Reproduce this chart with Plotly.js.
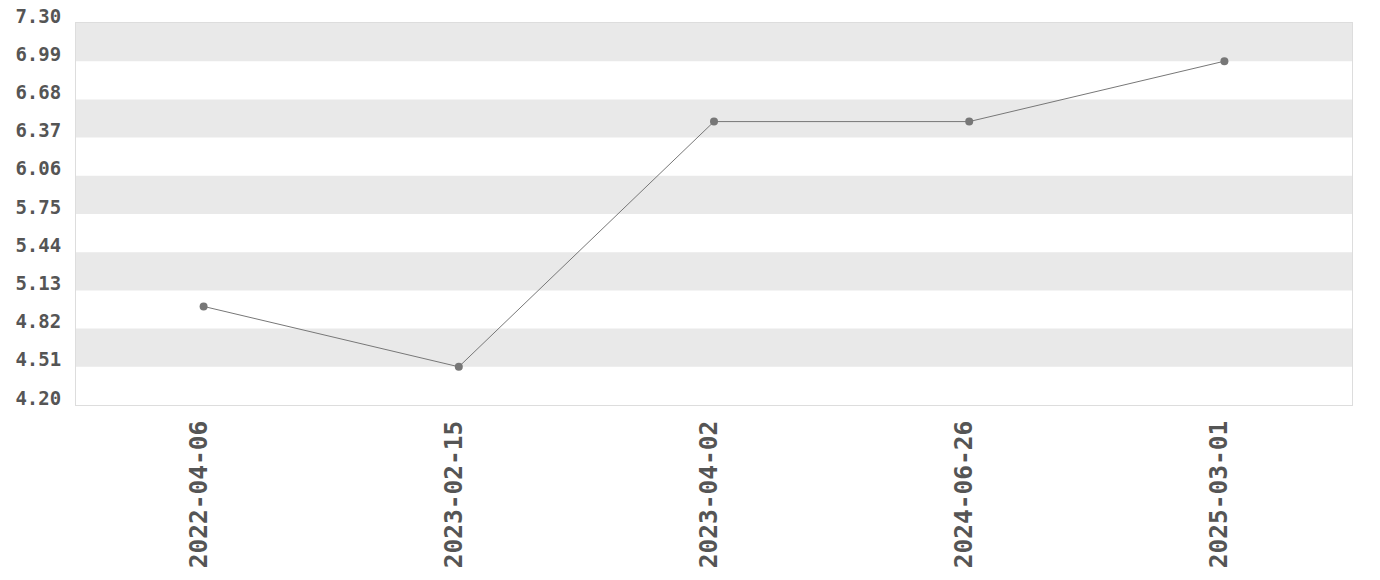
<!DOCTYPE html>
<html><head><meta charset="utf-8">
<script src="https://cdn.plot.ly/plotly-3.0.1.min.js"></script>
<style>html,body{margin:0;padding:0;background:#fff}#chart{width:1380px;height:580px}</style>
</head><body><div id="chart"></div>
<script>
const categories = ["2022-04-06", "2023-02-15", "2023-04-02", "2024-06-26", "2025-03-01"];
const values = [5.00, 4.51, 6.50, 6.50, 6.99];
const tickValues = [4.20, 4.51, 4.82, 5.13, 5.44, 5.75, 6.06, 6.37, 6.68, 6.99, 7.30];
const tickLabels = ["4.20", "4.51", "4.82", "5.13", "5.44", "5.75", "6.06", "6.37", "6.68", "6.99", "7.30"];

const shapes = [];
for (let i = tickValues.length - 2; i >= 0; i -= 2) {
  shapes.push({type: "rect", xref: "paper", yref: "y", x0: 0, x1: 1,
    y0: tickValues[i], y1: tickValues[i + 1], fillcolor: "#e9e9e9", line: {width: 0}, layer: "below"});
}

const font = {family: "DejaVu Sans Mono, monospace", size: 19, color: "#555555", weight: "bold"};

Plotly.newPlot("chart", [{
  x: categories, y: values, type: "scatter", mode: "lines+markers",
  line: {color: "#777777", width: 1},
  marker: {color: "#777777", size: 8},
  hoverinfo: "x+y"
}], {
  width: 1380, height: 580,
  margin: {l: 76, r: 28, t: 23, b: 175},
  paper_bgcolor: "#ffffff", plot_bgcolor: "#ffffff",
  showlegend: false,
  shapes: shapes,
  xaxis: {type: "category", range: [-0.5, 4.5], showgrid: false, zeroline: false,
    tickangle: -90, tickfont: Object.assign({}, font, {size: 24.5}), ticks: "",
    ticklabelstandoff: 5, ticklabelshift: -5,
    showline: true, linecolor: "#dddddd", mirror: true, linewidth: 1},
  yaxis: {range: [4.20, 7.30], tickmode: "array", tickvals: tickValues, ticktext: tickLabels,
    showgrid: false, zeroline: false, tickfont: font, ticks: "",
    ticklabelstandoff: 10, ticklabelshift: -7,
    showline: true, linecolor: "#dddddd", mirror: true, linewidth: 1}
}, {displayModeBar: false});
</script></body></html>
